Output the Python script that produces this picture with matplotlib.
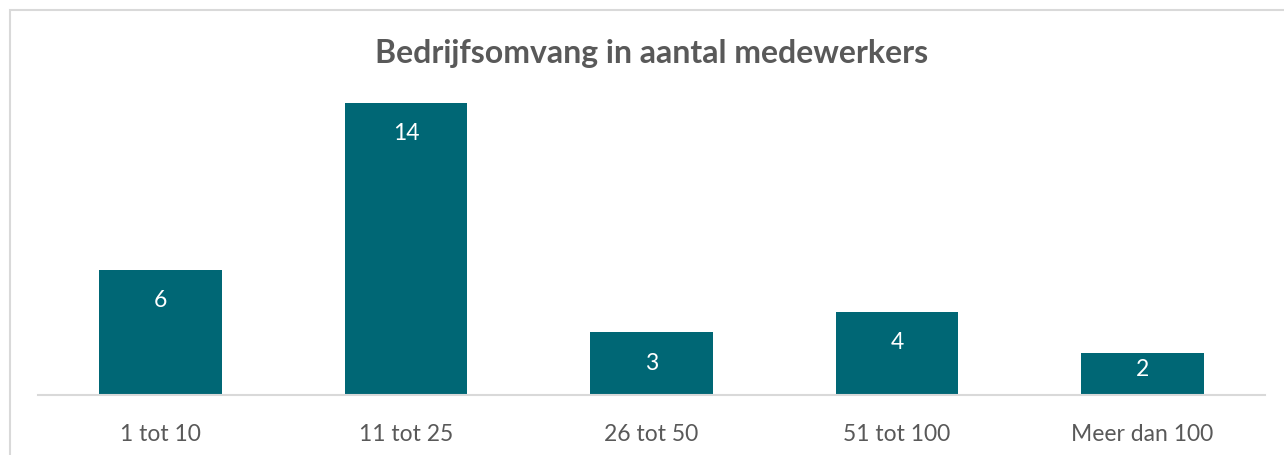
import matplotlib
matplotlib.use('Agg')
import matplotlib.pyplot as plt
from matplotlib.patches import Rectangle

# data
categories = ['1 tot 10', '11 tot 25', '26 tot 50', '51 tot 100', 'Meer dan 100']
values = [6, 14, 3, 4, 2]

plt.rcParams['font.family'] = ['Lato', 'DejaVu Sans']

fig = plt.figure(figsize=(12.84, 4.55), dpi=100, facecolor='white')

# light grey chart frame (left and top edges visible)
fig.patches.append(Rectangle((10 / 1284, -0.1), 1.2, (445 / 455) + 0.1,
                             transform=fig.transFigure, fill=False,
                             edgecolor='#d9d9d9', linewidth=1.5))

ax = fig.add_axes([38 / 1284, 60 / 455, 1227 / 1284, 292 / 455])
x = range(len(categories))
bars = ax.bar(x, values, width=0.5, color='#006775')

ax.set_xlim(-0.5, len(categories) - 0.5)
ax.set_ylim(0, 14)
ax.set_xticks(list(x))
ax.set_xticklabels(categories, fontsize=16.5, color='#595959')
ax.tick_params(axis='x', length=0, pad=21)
ax.set_yticks([])
for s in ['top', 'right', 'left']:
    ax.spines[s].set_visible(False)
ax.spines['bottom'].set_color('#d9d9d9')
ax.spines['bottom'].set_linewidth(1.5)
ax.patch.set_alpha(0)

# value labels inside the bar end
px_per_unit = 292 / 14
for i, v in enumerate(values):
    off_px = min(31, v * px_per_unit - 26)
    ax.annotate(f'{v}', xy=(i, v), xytext=(0, -off_px * 0.72),
                textcoords='offset points', ha='center', va='center',
                fontsize=16.5, color='white')

fig.text(652 / 1284, 1 - 53 / 455, 'Bedrijfsomvang in aantal medewerkers',
         ha='center', va='center', fontsize=23, fontweight='bold', color='#595959')

plt.savefig('out.png', dpi=100, facecolor='white')
plt.close()
